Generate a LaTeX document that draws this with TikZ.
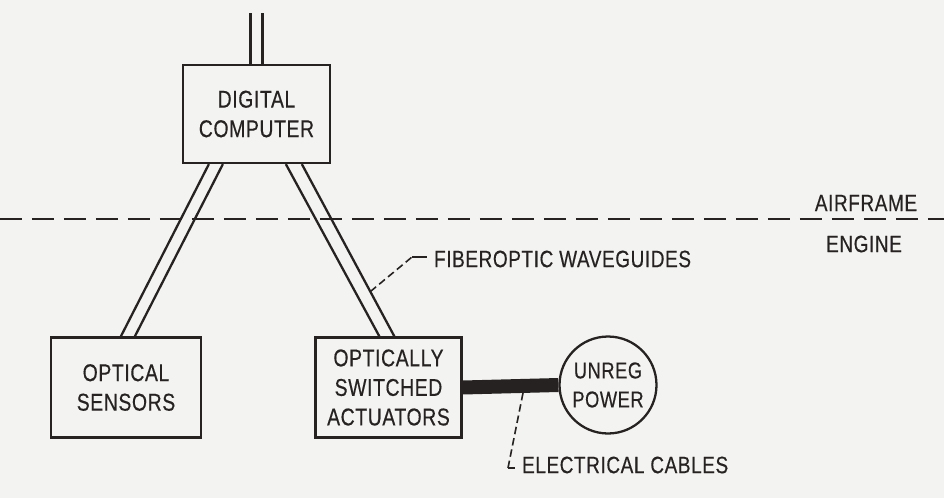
\documentclass[tikz,border=0pt]{standalone}
\usepackage{fontspec}
\setmainfont[FakeStretch=0.8, LetterSpace=2.5, FakeBold=0.4]{Liberation Sans}
\usepackage{tikz}
\usetikzlibrary{calc}

\definecolor{papel}{RGB}{243,243,241}
\definecolor{tinta}{RGB}{38,34,34}

\begin{document}
\begin{tikzpicture}[x=0.02cm, y=-0.02cm,
  caja/.style={draw=tinta, line width=1.3pt, minimum width=2.94cm, minimum height=1.96cm, align=center, text=tinta, font=\fontsize{13.8}{16.8}\selectfont},
  rotulo/.style={text=tinta, inner sep=1pt, font=\fontsize{13.5}{15}\selectfont},
  guia/.style={draw=tinta, line width=1.3pt},
  corte/.style={draw=tinta, line width=1.2pt, dash pattern=on 0.44cm off 0.2cm},
  trazos/.style={draw=tinta, line width=0.9pt, dash pattern=on 0.15cm off 0.08cm}]
\fill[papel] (0,0) rectangle (944,498);
\useasboundingbox (0,0) rectangle (944,498);
\node[caja] (comp) at (256.5,114) {DIGITAL\\COMPUTER};
\node[caja, minimum width=3cm, minimum height=2cm] (sens) at (126,387.5) {OPTICAL\\SENSORS};
\node[caja, minimum width=2.92cm, minimum height=2cm] (act) at (388.5,387.5) {OPTICALLY\\SWITCHED\\ACTUATORS};
\node[caja, circle, minimum width=0, minimum size=1.94cm, inner sep=0pt, font=\fontsize{13}{16.5}\selectfont] (pwr) at (608,385) {UNREG\\POWER};
\coordinate (topA) at (250.5,13);
\coordinate (topB) at (262.5,13);
\draw[guia] (topA) -- (topA |- comp.north);
\draw[guia] (topB) -- (topB |- comp.north);
\foreach \a/\n/\b in {27/sens/71, 41/sens/85, 104/act/65, 120/act/80}
  \draw[guia] ([shift={(\a,0)}]comp.south west) -- ([shift={(\b,0)}]\n.north west);
\coordinate (izq) at (0,219);
\coordinate (der) at (944,219);
\draw[corte] (izq) -- (der);
\node[rotulo] (air) at (866,203) {AIRFRAME};
\node[rotulo] (eng) at (864,244) {ENGINE};
\draw[tinta, line width=0.28cm] (act.east) -- (pwr.west);
\node[rotulo, anchor=west] (fib) at (432,259) {FIBEROPTIC WAVEGUIDES};
\coordinate (fo) at ($([shift={(120,0)}]comp.south west)!0.74!([shift={(80,0)}]act.north west)$);
\coordinate (codoF) at (412,257);
\draw[trazos] (fo) -- (codoF);
\draw[tinta, line width=0.9pt] (codoF) -- ([xshift=-3pt]fib.west |- codoF);
\node[rotulo, anchor=west] (elec) at (520,465) {ELECTRICAL CABLES};
\coordinate (ec) at (523,393);
\coordinate (codoE) at (508,468);
\draw[trazos] (ec) -- (codoE);
\draw[tinta, line width=0.9pt] (codoE) -- ([xshift=-3pt]elec.west |- codoE);
\end{tikzpicture}
\end{document}
